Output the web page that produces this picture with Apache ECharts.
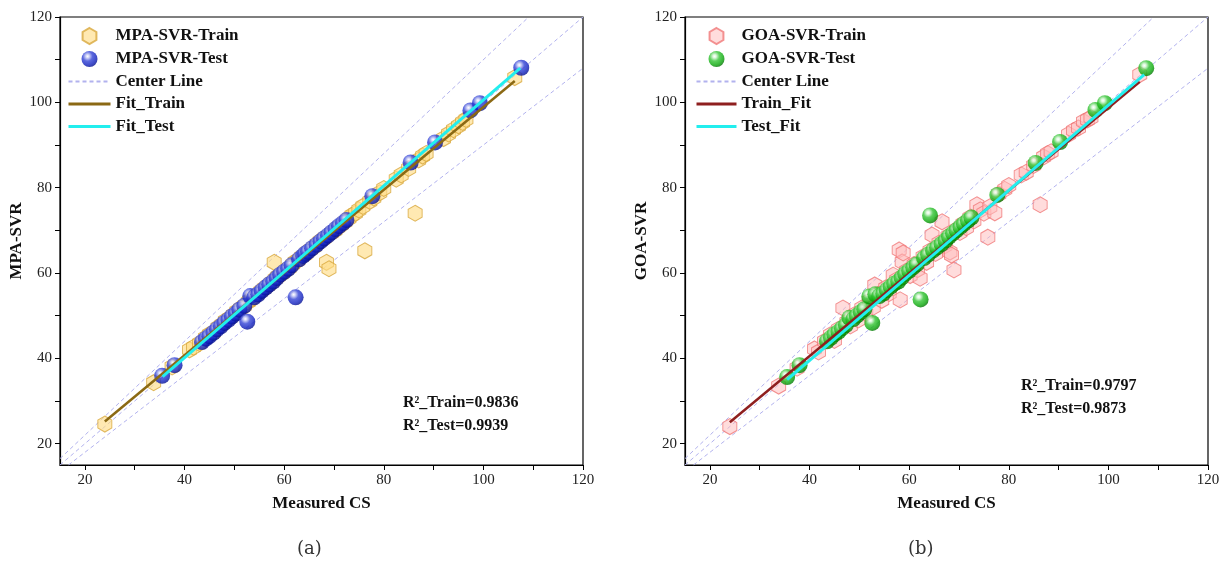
<!DOCTYPE html>
<html><head><meta charset="utf-8">
<script src="https://cdn.jsdelivr.net/npm/echarts@6/dist/echarts.min.js"></script>
<style>html,body{margin:0;padding:0;background:#fff}#c{width:1230px;height:571px}</style>
</head><body><div id="c"></div>
<script>
// ---- data ----
const trainMeasured = [24.0,33.8,37.5,41.0,41.8,43.0,44.2,45.0,45.8,46.7,47.5,48.2,49.0,49.8,50.5,51.3,52.0,52.8,53.1,53.8,54.5,55.3,56.0,56.8,57.5,58.0,58.2,58.6,58.8,59.5,60.2,61.0,61.7,62.2,62.8,63.5,64.2,64.6,65.3,66.0,66.6,67.2,67.8,68.2,68.5,69.0,69.5,70.2,70.8,71.5,72.2,73.0,73.6,74.3,75.0,75.8,76.2,77.2,78.0,79.2,80.0,82.5,83.5,85.0,86.3,87.0,87.8,88.5,92.0,93.0,94.0,95.0,95.8,96.5,106.3];
const trainMPA = [24.6,34.3,38.0,42.0,42.6,43.5,44.8,45.6,46.0,47.2,47.9,48.8,49.4,50.2,51.0,51.7,52.3,53.2,53.6,54.3,54.9,55.7,56.4,57.1,57.8,62.5,58.6,59.0,59.3,59.8,60.5,61.2,62.0,62.6,63.0,63.8,64.3,64.9,65.5,66.1,66.8,67.4,67.9,68.3,62.5,61.0,69.4,70.0,70.7,71.3,72.0,72.8,73.5,74.0,74.8,75.6,65.2,76.8,77.6,78.8,79.8,82.0,83.0,84.5,74.0,86.5,87.4,88.0,91.5,92.6,93.6,94.5,95.3,96.0,105.8];
const trainGOA = [24.0,33.5,37.7,42.2,41.5,44.0,45.5,44.2,46.8,51.8,48.5,47.6,50.2,49.0,51.8,50.5,53.5,52.0,57.2,55.0,53.6,56.5,55.2,59.5,58.4,65.4,53.7,62.6,64.7,60.5,59.4,62.0,60.8,58.8,63.8,62.5,65.2,68.9,64.6,67.0,72.0,66.4,68.6,64.9,64.2,60.7,70.2,69.5,71.5,70.6,73.0,72.2,76.0,74.8,74.0,68.4,75.5,74.1,78.5,79.6,80.5,83.0,83.6,85.2,76.0,87.2,88.0,88.4,92.5,93.4,94.0,95.5,95.9,96.4,106.5];
const testMeasured = [35.5,38.0,43.5,44.3,45.0,45.8,46.5,47.3,48.0,48.8,49.5,50.3,51.0,52.0,52.6,53.2,54.0,54.8,55.5,56.3,57.0,57.8,58.5,59.2,60.0,60.8,61.5,62.3,63.0,63.8,64.2,64.8,65.6,66.5,67.3,68.0,68.8,69.5,70.3,71.0,71.8,72.5,77.7,85.4,90.3,97.4,99.3,107.6];
const testMPA = [35.9,38.4,43.8,44.6,45.2,46.0,46.8,47.5,48.3,49.0,49.8,50.5,51.4,52.3,48.6,54.6,54.3,55.0,55.8,56.6,57.3,58.0,58.8,59.6,60.3,61.0,61.8,54.3,63.2,64.0,64.5,65.0,65.8,66.6,67.4,68.1,68.8,69.5,70.3,71.0,71.7,72.4,78.0,85.9,90.6,98.1,99.8,108.1];
const testGOA = [35.6,38.4,44.0,44.8,45.6,46.2,47.0,47.8,49.5,49.2,50.0,50.8,51.5,54.5,48.3,55.0,54.6,55.2,56.0,56.8,57.5,58.0,58.9,59.8,60.5,61.3,62.0,53.8,63.5,64.3,73.5,65.3,66.0,66.8,67.6,68.5,69.3,70.0,70.8,71.5,72.3,73.0,78.3,85.8,90.7,98.2,99.8,108.0];
const fitTrainMPA = [[24.0,25.2],[106.3,105.0]];
const fitTestMPA  = [[35.6,35.7],[107.4,108.0]];
const fitTrainGOA = [[24.0,25.0],[106.3,104.8]];
const fitTestGOA  = [[35.5,35.0],[107.2,106.5]];
const centerMid = [[15,15],[120,120]];
const centerUp  = [[15,16.5],[109.1,120]];
const centerLow = [[16.7,15],[120,108]];
const tickValues  = [20,30,40,50,60,70,80,90,100,110,120];
const labelValues = [20,40,60,80,100,120];
const r2TextA = ['R²_Train=0.9836','R²_Test=0.9939'];
const r2TextB = ['R²_Train=0.9797','R²_Test=0.9873'];

// ---- styling ----
const SERIF = '"Liberation Serif","Times New Roman",serif';
const HEX = 'path://M50,0 L93.3,25 L93.3,75 L50,100 L6.7,75 L6.7,25 Z';
const CENTER_COLOR = '#b2b2ee';
const pair = (xs, ys) => xs.map((x, i) => [x, ys[i]]);
const sphere = (c) => ({type:'radial', x:0.38, y:0.33, r:0.72, colorStops:[
  {offset:0, color:'#ffffff'}, {offset:0.14, color:c[0]}, {offset:0.42, color:c[1]},
  {offset:0.75, color:c[2]}, {offset:1, color:c[3]}]});
const blue = sphere(['#c9cdf6','#3444d6','#1222bf','#000b86']);
const green = sphere(['#d6f7d6','#34c434','#0aa80a','#006a00']);

function axisPair(idx, yName) {
  const common = {
    gridIndex: idx, type:'value', min:15, max:120,
    axisLine:{show:true, onZero:false, lineStyle:{color:'#000', width:1.2}},
    axisTick:{show:true, inside:false, length:5, customValues: tickValues, lineStyle:{color:'#000', width:1}},
    axisLabel:{customValues: labelValues, color:'#222', fontFamily:SERIF, fontSize:15, margin:8},
    splitLine:{show:false},
    nameLocation:'middle',
    nameTextStyle:{fontFamily:SERIF, fontWeight:'bold', fontSize:17, color:'#111'}
  };
  return {
    x: Object.assign({}, common, {name:'Measured CS', nameGap:30}),
    y: Object.assign({}, common, {name:yName, nameGap:30})
  };
}
const A = axisPair(0, 'MPA-SVR');
const B = axisPair(1, 'GOA-SVR');

function centerSeries(idx) {
  return [centerMid, centerUp, centerLow].map(d => ({
    type:'line', name:'Center Line', xAxisIndex:idx, yAxisIndex:idx, data:d,
    symbol:'none', showSymbol:false, silent:true, z:1,
    lineStyle:{color:CENTER_COLOR, width:1, type:[4,3]}, itemStyle:{color:CENTER_COLOR, opacity:0}
  }));
}
function trainSeries(idx, name, data, fill, border) {
  return {type:'scatter', name, xAxisIndex:idx, yAxisIndex:idx, data, symbol:HEX,
    symbolSize:[14,16], z:2, itemStyle:{color:fill, borderColor:border, borderWidth:1}};
}
function testSeries(idx, name, data, grad) {
  return {type:'scatter', name, xAxisIndex:idx, yAxisIndex:idx, data, symbol:'circle',
    symbolSize:16, z:3, itemStyle:{color:grad, borderWidth:0}};
}
function fitSeries(idx, name, data, color, w) {
  return {type:'line', name, xAxisIndex:idx, yAxisIndex:idx, data, symbol:'none', showSymbol:false, z:5,
    lineStyle:{color, width:w}, itemStyle:{color, opacity:0}};
}
function r2Graphics(lines, left, top) {
  return lines.map((t, i) => ({type:'text', left, top: top + i*23,
    style:{text:t, font:'bold 16px ' + SERIF, fill:'#111'}}));
}
const centerItem = {name:'Center Line', itemStyle:{opacity:0, borderWidth:0}};
const fitItem = (name) => ({name, itemStyle:{opacity:0, borderWidth:0}, lineStyle:{width:3}});
const legendBase = {orient:'vertical', top:27, itemWidth:42, itemHeight:16, itemGap:5.5, padding:0,
  textStyle:{fontFamily:SERIF, fontWeight:'bold', fontSize:17, color:'#111'}};

const option = {
  animation:false,
  backgroundColor:'#fff',
  grid:[
    {left:60, top:17, width:523, height:448, show:true, borderColor:'#000', borderWidth:1.2},
    {left:685, top:17, width:523, height:448, show:true, borderColor:'#000', borderWidth:1.2}
  ],
  xAxis:[A.x, B.x],
  yAxis:[A.y, B.y],
  legend:[
    Object.assign({}, legendBase, {left:67, data:['MPA-SVR-Train','MPA-SVR-Test',centerItem,fitItem('Fit_Train'),fitItem('Fit_Test')]}),
    Object.assign({}, legendBase, {left:695, itemWidth:40, data:['GOA-SVR-Train','GOA-SVR-Test',centerItem,fitItem('Train_Fit'),fitItem('Test_Fit')]})
  ],
  graphic:[
    ...r2Graphics(r2TextA, 403, 395),
    ...r2Graphics(r2TextB, 1021, 378),
    {type:'text', left:297, top:540, style:{text:'(a)', font:'18px "DejaVu Serif"', fill:'#333'}},
    {type:'text', left:908, top:540, style:{text:'(b)', font:'18px "DejaVu Serif"', fill:'#333'}}
  ],
  series:[
    ...centerSeries(0),
    trainSeries(0, 'MPA-SVR-Train', pair(trainMeasured, trainMPA), 'rgba(255,221,135,0.8)', '#d8a83c'),
    testSeries(0, 'MPA-SVR-Test', pair(testMeasured, testMPA), blue),
    fitSeries(0, 'Fit_Train', fitTrainMPA, '#8b6914', 2.5),
    fitSeries(0, 'Fit_Test', fitTestMPA, '#22eeee', 3),
    ...centerSeries(1),
    trainSeries(1, 'GOA-SVR-Train', pair(trainMeasured, trainGOA), 'rgba(255,188,188,0.65)', '#f07878'),
    testSeries(1, 'GOA-SVR-Test', pair(testMeasured, testGOA), green),
    fitSeries(1, 'Train_Fit', fitTrainGOA, '#8e1f1f', 2.5),
    fitSeries(1, 'Test_Fit', fitTestGOA, '#22eeee', 3)
  ]
};
const chart = echarts.init(document.getElementById('c'), null, {renderer:'canvas'});
chart.setOption(option);
</script>
</body></html>
